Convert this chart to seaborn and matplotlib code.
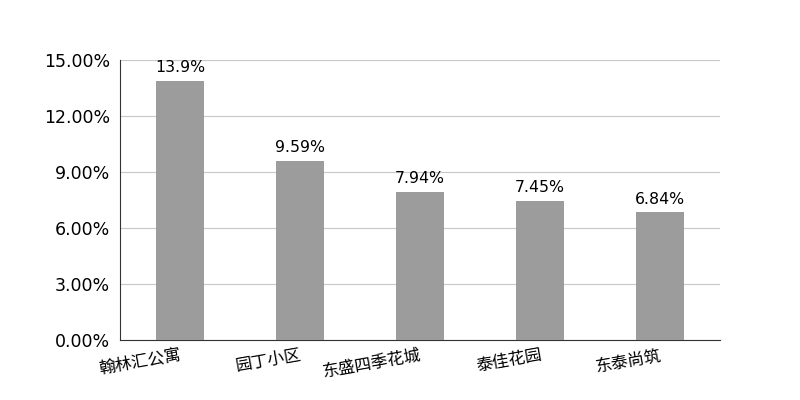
import matplotlib
matplotlib.use("Agg")
import matplotlib.pyplot as plt
import seaborn as sns
import pandas as pd
from matplotlib.ticker import FuncFormatter, FixedLocator

communities = ["翰林汇公寓", "园丁小区", "东盛四季花城", "泰佳花园", "东泰尚筑"]
shares = [13.9, 9.59, 7.94, 7.45, 6.84]
value_labels = ["13.9%", "9.59%", "7.94%", "7.45%", "6.84%"]

sns.set_style("white")
plt.rcParams["font.family"] = ["DejaVu Sans", "Noto Sans CJK SC"]
plt.rcParams["text.color"] = "black"
plt.rcParams["xtick.color"] = "black"
plt.rcParams["ytick.color"] = "black"

df = pd.DataFrame({"community": communities, "share": shares})

fig = plt.figure(figsize=(8, 4), dpi=100)
ax = fig.add_axes([0.15, 0.15, 0.75, 0.70])

sns.barplot(data=df, x="community", y="share", color="#9c9c9c", width=0.4,
            saturation=1, linewidth=0, ax=ax, zorder=3)

for i, (v, lab) in enumerate(zip(shares, value_labels)):
    ax.text(i, v + 0.3, lab, ha="center", va="bottom", fontsize=11.3,
            color="black", family="DejaVu Sans")

ax.set_ylim(0, 15)
ax.set_xlim(-0.5, len(communities) - 0.5)
ax.yaxis.set_major_locator(FixedLocator([0, 3, 6, 9, 12, 15]))
ax.yaxis.set_major_formatter(FuncFormatter(lambda y, _: f"{y:.2f}%"))
ax.grid(axis="y", color="#c8c8c8", linewidth=0.8, zorder=0)

# category boundaries as major ticks, labels on minor ticks at centres
ax.set_xticks([i - 0.5 for i in range(len(communities) + 1)])
ax.set_xticklabels([])
ax.set_xticks(range(len(communities)), minor=True)
ax.set_xticklabels(communities, minor=True, rotation=10, ha="right",
                   rotation_mode="anchor", fontsize=12,
                   family=["Noto Sans CJK SC", "DejaVu Sans"])
ax.tick_params(axis="x", which="major", direction="out", length=5, color="#333333", width=0.8)
ax.tick_params(axis="x", which="minor", length=0, pad=5)
ax.tick_params(axis="y", direction="out", length=5, color="#333333", width=0.8,
               labelsize=12.5, pad=2)
for t in ax.get_yticklabels():
    t.set_family("DejaVu Sans")

ax.set_xlabel("")
ax.set_ylabel("")
for side in ["top", "right"]:
    ax.spines[side].set_visible(False)
for side in ["left", "bottom"]:
    ax.spines[side].set_color("#333333")
    ax.spines[side].set_linewidth(0.8)

fig.savefig("out.png", dpi=100)
